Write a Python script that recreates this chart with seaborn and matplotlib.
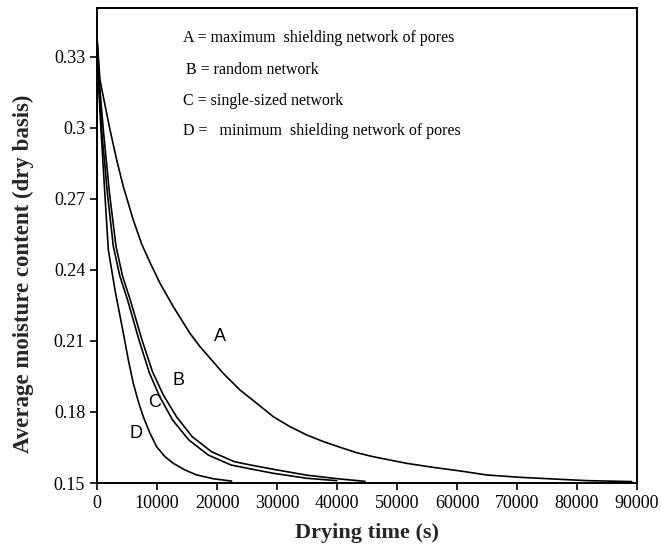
import matplotlib
matplotlib.use("Agg")
import matplotlib.pyplot as plt
import seaborn as sns
import pandas as pd

# Drying curves for four pore-network configurations
time_a = [0, 500, 830, 2170, 3280, 4390, 6050, 7440, 8830, 10500, 12720,
          15500, 17170, 21050, 23830, 26610, 29390, 32170, 34950, 37720,
          40500, 43280, 46050, 48830, 51620, 56050, 60500, 64950, 70500,
          76050, 81620, 89120]
moist_a = [0.338, 0.3203, 0.316, 0.2992, 0.2865, 0.2752, 0.2611, 0.2510,
           0.2432, 0.2344, 0.2245, 0.2132, 0.2076, 0.1963, 0.1893, 0.1837,
           0.1780, 0.1738, 0.1703, 0.1675, 0.1651, 0.1628, 0.1611, 0.1597,
           0.1583, 0.1566, 0.1551, 0.1534, 0.1524, 0.1517, 0.1510, 0.1506]

time_b = [0, 300, 1060, 2100, 3170, 4250, 5550, 7500, 9250, 11050, 13250,
          15850, 19100, 22900, 25600, 29390, 34950, 40500, 44670]
moist_b = [0.338, 0.322, 0.299, 0.2720, 0.2500, 0.2375, 0.2273, 0.2104,
           0.1970, 0.1872, 0.1780, 0.1696, 0.1632, 0.1590, 0.1576, 0.1558,
           0.1533, 0.1517, 0.1507]

time_c = [0, 300, 780, 1750, 2720, 3800, 5100, 7000, 8750, 10450, 12600,
          15300, 18550, 22350, 25500, 29390, 34950, 39950]
moist_c = [0.338, 0.321, 0.299, 0.2720, 0.2500, 0.2375, 0.2273, 0.2104,
           0.1964, 0.1865, 0.1766, 0.1682, 0.1618, 0.1576, 0.1560, 0.1541,
           0.1520, 0.1510]

time_d = [0, 250, 670, 1170, 1580, 1890, 3000, 4390, 5220, 6050, 6890,
          7720, 8830, 9950, 11330, 12720, 14670, 16610, 19390, 22440]
moist_d = [0.338, 0.318, 0.299, 0.278, 0.261, 0.2485, 0.2315, 0.2133,
           0.2020, 0.1921, 0.1844, 0.1780, 0.1710, 0.1653, 0.1611, 0.1583,
           0.1555, 0.1534, 0.1518, 0.1508]

curve_names = ["A", "B", "C", "D"]
label_x = [20500, 13500, 9600, 6500]
label_y = [0.2117, 0.1935, 0.1840, 0.1710]

legend_lines = [
    "A = maximum  shielding network of pores",
    "B = random network",
    "C = single-sized network",
    "D =   minimum  shielding network of pores",
]

x_ticks = [0, 10000, 20000, 30000, 40000, 50000, 60000, 70000, 80000, 90000]
y_ticks = [0.15, 0.18, 0.21, 0.24, 0.27, 0.30, 0.33]
y_tick_labels = ["0.15", "0.18", "0.21", "0.24", "0.27", "0.3", "0.33"]

frames = []
for name, t, m in zip(curve_names,
                      [time_a, time_b, time_c, time_d],
                      [moist_a, moist_b, moist_c, moist_d]):
    frames.append(pd.DataFrame({"time": t, "moisture": m, "network": name}))
df = pd.concat(frames, ignore_index=True)

sns.set_theme(style="ticks")
plt.rcParams["font.family"] = ["Liberation Serif", "DejaVu Serif"]

fig = plt.figure(figsize=(6.62, 5.52), dpi=100)
ax = fig.add_axes([97 / 662, 69 / 552, 540 / 662, 475 / 552])

sns.lineplot(data=df, x="time", y="moisture", units="network",
             estimator=None, sort=False, color="black", linewidth=1.2, ax=ax)

ax.set_xlim(0, 90000)
ax.set_ylim(0.15, 0.3507)
ax.set_xticks(x_ticks)
ax.set_xticklabels([str(v) for v in x_ticks])
ax.set_yticks(y_ticks)
ax.set_yticklabels(y_tick_labels)
ax.tick_params(axis="both", direction="out", length=5, width=1.2,
               labelsize=13, colors="black")

for side in ["left", "right", "top", "bottom"]:
    ax.spines[side].set_visible(True)
    ax.spines[side].set_linewidth(1.4)
    ax.spines[side].set_color("black")

ax.set_xlabel("Drying time (s)", fontsize=16, fontweight="bold", labelpad=8)
ax.set_ylabel("Average moisture content (dry basis)", fontsize=16.5,
              fontweight="bold")
ax.yaxis.set_label_coords(-0.117, 0.44)

for name, lx, ly in zip(curve_names, label_x, label_y):
    ax.text(lx, ly, name, fontsize=13, family=["Liberation Sans", "DejaVu Sans"],
            ha="center", va="center", color="black")

legend_y_px = [38, 70, 101, 131]
legend_x_px = [183, 186, 183, 183]
for txt, lx, ly in zip(legend_lines, legend_x_px, legend_y_px):
    fig.text(lx / 662, 1 - ly / 552, txt, fontsize=11.5, va="center",
             ha="left", color="black")

fig.savefig("out.png", dpi=100, facecolor="white")
